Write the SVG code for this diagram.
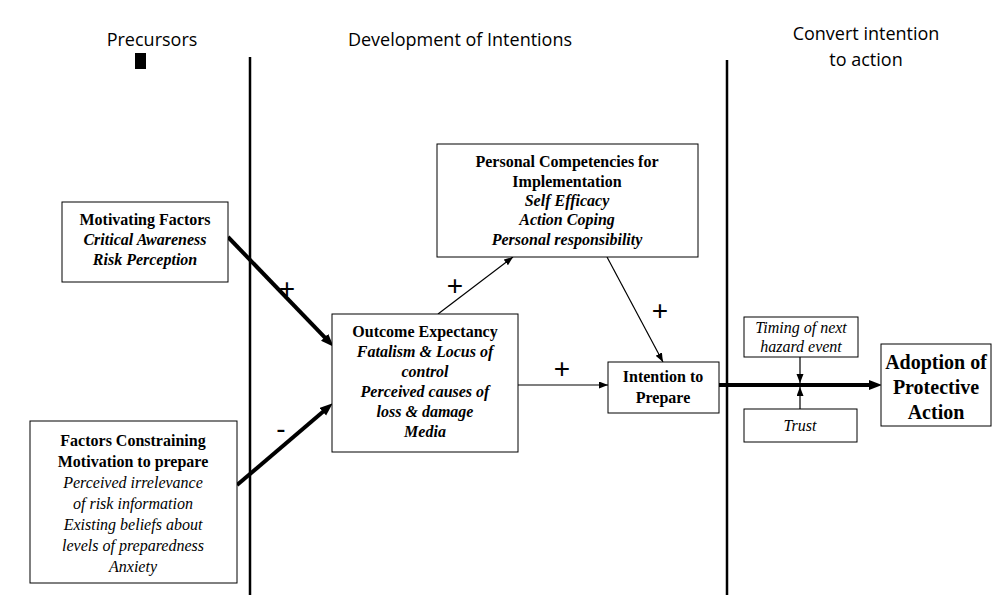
<svg xmlns="http://www.w3.org/2000/svg" width="993" height="595" viewBox="0 0 993 595">
<style>
.box{fill:#fff;stroke:#000;stroke-width:1}
.t{font-family:"Liberation Serif","Times New Roman",serif;font-size:16px;text-anchor:middle;fill:#000}
.b{font-weight:bold}
.i{font-style:italic}
.h{font-family:"Open Sans","DejaVu Sans",sans-serif;font-size:18px;text-anchor:middle;fill:#000}
.sign{font-family:"Liberation Sans",Arial,sans-serif;font-size:28px;text-anchor:middle;fill:#000}
.thick{stroke:#000;stroke-width:4;fill:none}
.thin{stroke:#000;stroke-width:1.2;fill:none}
.div{stroke:#000;stroke-width:2.5}
</style>
<defs>
<marker id="ah" markerUnits="userSpaceOnUse" markerWidth="14" markerHeight="12" refX="4" refY="5" orient="auto"><path d="M0,0 L13,5 L0,10 z" fill="#000"/></marker>
<marker id="as" markerUnits="userSpaceOnUse" markerWidth="10" markerHeight="8" refX="9" refY="3.5" orient="auto"><path d="M0,0 L9,3.5 L0,7 z" fill="#000"/></marker>
</defs>
<rect width="993" height="595" fill="#fff"/>
<g id="headers">
<text class="h" x="152" y="46">Precursors</text>
<rect x="135" y="53" width="11" height="16" fill="#000"/>
<text class="h" x="460" y="46">Development of Intentions</text>
<text class="h" x="866" y="40">Convert intention</text>
<text class="h" x="866" y="66">to action</text>
</g>
<g id="dividers">
<line class="div" x1="250" y1="57" x2="250" y2="595"/>
<line class="div" x1="727" y1="60" x2="727" y2="595"/>
</g>
<g id="connectors">
<line class="thick" x1="228" y1="237" x2="327.4" y2="340.2" marker-end="url(#ah)"/>
<line class="thick" x1="237" y1="485" x2="325.9" y2="409.2" marker-end="url(#ah)"/>
<line class="thin" x1="438" y1="314" x2="513" y2="257" marker-end="url(#as)"/>
<line class="thin" x1="607" y1="257" x2="663" y2="362" marker-end="url(#as)"/>
<line class="thin" x1="518" y1="385" x2="608" y2="385" marker-end="url(#as)"/>
<line class="thick" x1="719" y1="385" x2="873" y2="385" marker-end="url(#ah)"/>
<line class="thin" x1="800" y1="357" x2="800" y2="383" marker-end="url(#as)"/>
<line class="thin" x1="800" y1="409" x2="800" y2="387" marker-end="url(#as)"/>
<text class="sign" x="287" y="298">+</text>
<text class="sign" x="281" y="438">-</text>
<text class="sign" x="455" y="295">+</text>
<text class="sign" x="660" y="320">+</text>
<text class="sign" x="562" y="378">+</text>
</g>
<g id="motivating">
<rect class="box" x="62" y="202" width="166" height="80"/>
<text class="t b" x="145" y="225">Motivating Factors</text>
<text class="t b i" x="145" y="245">Critical Awareness</text>
<text class="t b i" x="145" y="265">Risk Perception</text>
</g>
<g id="constraining">
<rect class="box" x="30" y="421" width="207" height="162"/>
<text class="t b" x="133" y="446">Factors Constraining</text>
<text class="t b" x="133" y="467">Motivation to prepare</text>
<text class="t i" x="133" y="488">Perceived irrelevance</text>
<text class="t i" x="133" y="509">of risk information</text>
<text class="t i" x="133" y="530">Existing beliefs about</text>
<text class="t i" x="133" y="551">levels of preparedness</text>
<text class="t i" x="133" y="572">Anxiety</text>
</g>
<g id="competencies">
<rect class="box" x="437" y="144" width="261" height="113"/>
<text class="t b" x="567" y="167">Personal Competencies for</text>
<text class="t b" x="567" y="187">Implementation</text>
<text class="t b i" x="567" y="206">Self Efficacy</text>
<text class="t b i" x="567" y="225">Action Coping</text>
<text class="t b i" x="567" y="245">Personal responsibility</text>
</g>
<g id="outcome">
<rect class="box" x="332" y="314" width="186" height="138"/>
<text class="t b" x="425" y="337">Outcome Expectancy</text>
<text class="t b i" x="425" y="357">Fatalism &amp; Locus of</text>
<text class="t b i" x="425" y="377">control</text>
<text class="t b i" x="425" y="397">Perceived causes of</text>
<text class="t b i" x="425" y="417">loss &amp; damage</text>
<text class="t b i" x="425" y="437">Media</text>
</g>
<g id="intention">
<rect class="box" x="608" y="362" width="111" height="51"/>
<text class="t b" x="663" y="382">Intention to</text>
<text class="t b" x="663" y="403">Prepare</text>
</g>
<g id="timing">
<rect class="box" x="744" y="317" width="114" height="40"/>
<text class="t i" x="801" y="333">Timing of next</text>
<text class="t i" x="801" y="352">hazard event</text>
</g>
<g id="trust">
<rect class="box" x="744" y="409" width="113" height="33"/>
<text class="t i" x="800" y="431">Trust</text>
</g>
<g id="adoption">
<rect class="box" x="881" y="344" width="110" height="82"/>
<text class="t b" style="font-size:20px" x="936" y="369">Adoption of</text>
<text class="t b" style="font-size:20px" x="936" y="394">Protective</text>
<text class="t b" style="font-size:20px" x="936" y="419">Action</text>
</g>
</svg>
